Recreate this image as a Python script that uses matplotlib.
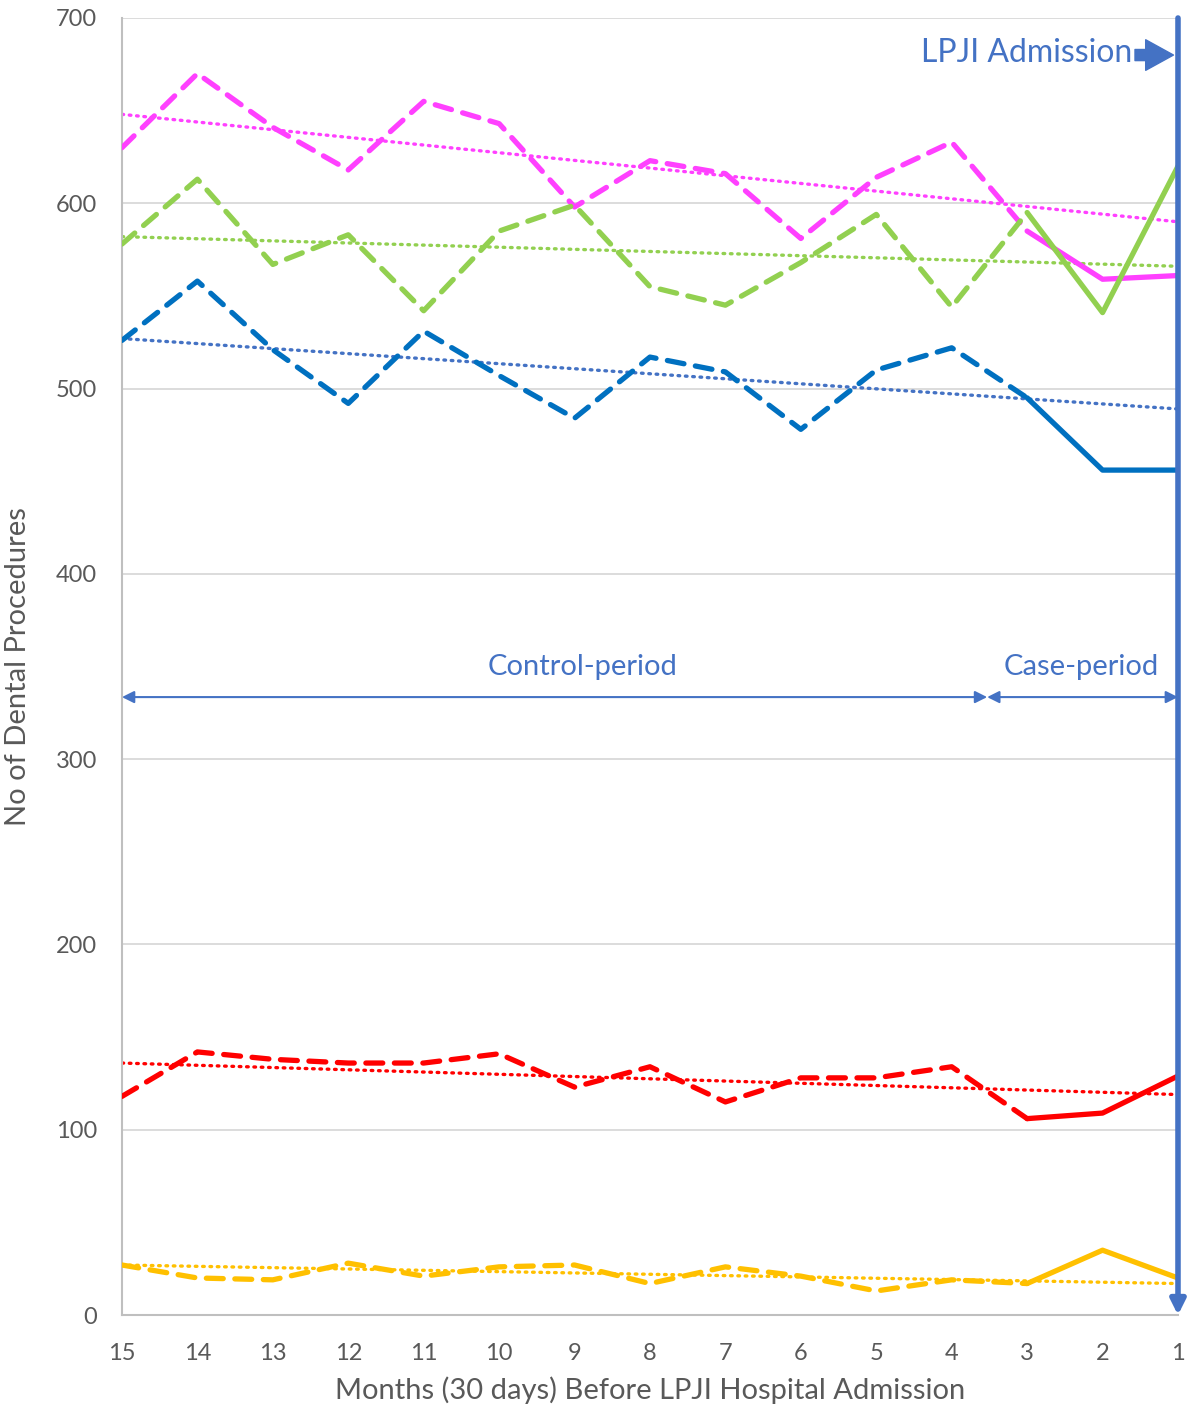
import matplotlib
matplotlib.use('Agg')
import matplotlib.pyplot as plt
import numpy as np

plt.rcParams['font.family'] = ['Lato', 'DejaVu Sans']

# months before admission (x axis runs 15 -> 1)
months = [15, 14, 13, 12, 11, 10, 9, 8, 7, 6, 5, 4, 3, 2, 1]
tick_labels = [str(m) for m in months]

pink = [630, 670, 641, 618, 655, 643, 598, 623, 616, 581, 614, 633, 585, 559, 561]
green = [578, 613, 567, 583, 542, 585, 599, 555, 545, 568, 594, 544, 595, 541, 620]
blue = [526, 558, 521, 492, 531, 507, 484, 517, 509, 478, 510, 522, 495, 456, 456]
red = [118, 142, 138, 136, 136, 141, 123, 134, 115, 128, 128, 134, 106, 109, 129]
yellow = [27, 20, 19, 28, 21, 26, 27, 17, 26, 21, 13, 19, 17, 35, 20]

# trend line end values (month 15, month 1)
pink_trend = [648, 590]
green_trend = [582, 566]
blue_trend = [527, 489]
red_trend = [136, 119]
yellow_trend = [27, 17]

series = [
    (pink, pink_trend, '#FF40FF', '#FF40FF'),
    (green, green_trend, '#92D050', '#92D050'),
    (blue, blue_trend, '#0070C0', '#4472C4'),
    (red, red_trend, '#FF0000', '#FF0000'),
    (yellow, yellow_trend, '#FFC000', '#FFC000'),
]

accent = '#4472C4'
grey_txt = '#595959'

fig = plt.figure(figsize=(11.98, 14.16), dpi=100)
ax = fig.add_axes([0.1018, 0.0713, 0.8815, 0.916])

# control period = first 13 points (15..3), case period = last 3 (3..1)
n_ctrl = 13
for vals, trend, col, tcol in series:
    ax.plot(months[:n_ctrl], vals[:n_ctrl], color=col, lw=3.8,
            linestyle=(0, (3.2, 2.2)), dash_capstyle='round', zorder=3)
    ax.plot(months[n_ctrl - 1:], vals[n_ctrl - 1:], color=col, lw=3.8,
            solid_capstyle='round', solid_joinstyle='round', zorder=3)
    ax.plot([months[0], months[-1]], trend, color=tcol, lw=2.4,
            linestyle=(0, (0.5, 1.7)), dash_capstyle='round', zorder=2)

ax.set_xlim(15, 1)
ax.set_ylim(0, 700)
ax.set_xticks(months)
ax.set_xticklabels(tick_labels)
ax.set_yticks(range(0, 701, 100))
ax.tick_params(length=0, labelsize=17, colors=grey_txt)
ax.tick_params(axis='y', pad=18)
ax.tick_params(axis='x', pad=20)
ax.grid(axis='y', color='#D9D9D9', lw=1.3)
ax.set_axisbelow(True)
for s in ['top', 'right']:
    ax.spines[s].set_visible(False)
for s in ['left', 'bottom']:
    ax.spines[s].set_color('#BFBFBF')
    ax.spines[s].set_linewidth(1.5)

ax.set_ylabel('No of Dental Procedures', fontsize=21, color=grey_txt, va='center')
ax.yaxis.set_label_coords(-0.0985, 0.5)
ax.set_xlabel('Months (30 days) Before LPJI Hospital Admission', fontsize=21,
              color=grey_txt, va='center')
ax.xaxis.set_label_coords(0.5, -0.0578)

# admission marker
ax.annotate('', xy=(1, 0), xytext=(1, 700),
            arrowprops=dict(arrowstyle='-|>', color=accent, lw=4,
                            mutation_scale=22, shrinkA=0, shrinkB=0),
            annotation_clip=False, zorder=5)
ax.text(1.6, 681, 'LPJI Admission', color=accent, fontsize=23,
        ha='right', va='center')
ax.annotate('', xy=(1.06, 680), xytext=(1.57, 680),
            arrowprops=dict(width=8, headwidth=22, headlength=20,
                            color=accent, shrink=0),
            annotation_clip=False)

# period arrows
split = 3.53
ax.annotate('', xy=(15, 333.5), xytext=(split, 333.5),
            arrowprops=dict(arrowstyle='<|-|>', color=accent, lw=1.5,
                            mutation_scale=18, shrinkA=0, shrinkB=0),
            annotation_clip=False)
ax.annotate('', xy=(split, 333.5), xytext=(1, 333.5),
            arrowprops=dict(arrowstyle='<|-|>', color=accent, lw=1.5,
                            mutation_scale=18, shrinkA=0, shrinkB=0),
            annotation_clip=False)
ax.text(8.9, 350, 'Control-period', color=accent, fontsize=21,
        ha='center', va='center')
ax.text(2.28, 350, 'Case-period', color=accent, fontsize=21,
        ha='center', va='center')

fig.savefig('out.png', dpi=100)
